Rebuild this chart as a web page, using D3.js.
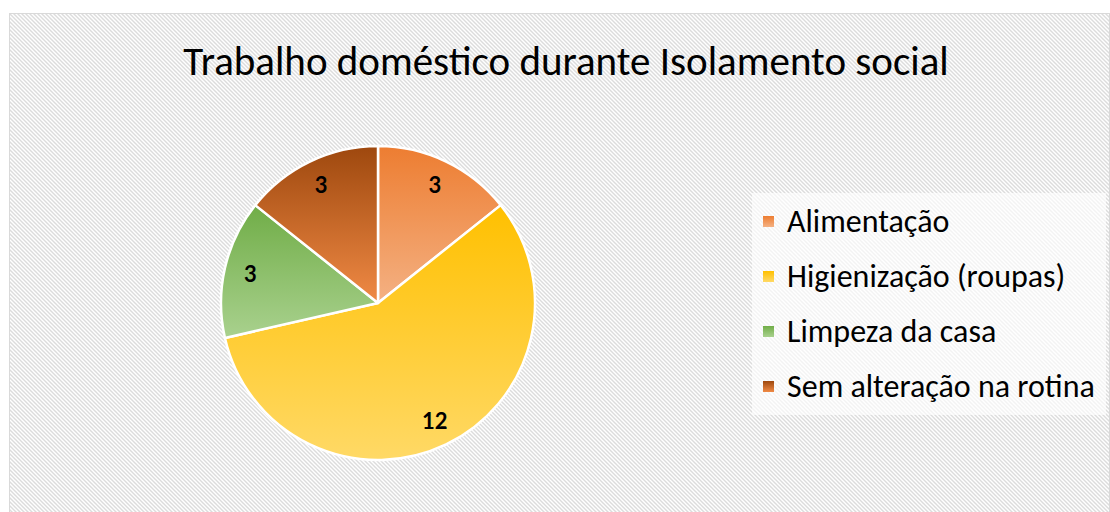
<!DOCTYPE html>
<html>
  <head>
    <meta charset="utf-8">
    <title>Trabalho doméstico</title>
    <script src="https://cdn.jsdelivr.net/npm/d3@7"></script>
    <style>
body {
  margin: 0;
  background: #fff;
  font-family: Carlito, Calibri, "Open Sans", "Noto Sans", sans-serif;
}
    </style>
  </head>
  <body>
    <script>

var categories = ["Alimentação", "Higienização (roupas)", "Limpeza da casa", "Sem alteração na rotina"];
var values = [3, 12, 3, 3];
var topColors = ["#ed7d31", "#ffc000", "#70ad47", "#9e480e"];
var bottomColors = ["#f4b183", "#ffd966", "#a9d18e", "#f08a45"];

var w = 1110,
    h = 512,
    cx = 378,
    cy = 303,
    r = 157;

var svg = d3.select("body")
  .append("svg")
    .attr("width", w)
    .attr("height", h);

var defs = svg.append("defs");

// downward diagonal hatch of the chart area
var hatch = defs.append("pattern")
    .attr("id", "hatch")
    .attr("patternUnits", "userSpaceOnUse")
    .attr("width", 4)
    .attr("height", 4);
hatch.append("rect")
    .attr("width", 4)
    .attr("height", 4)
    .attr("fill", "#fff");
hatch.append("path")
    .attr("d", "M-1,-1L5,5M-1,3L1,5M3,-1L5,1")
    .attr("stroke", "#dcdcdc")
    .attr("stroke-width", 1.4);

categories.forEach(function(c, i) {
  var g = defs.append("linearGradient")
      .attr("id", "grad" + i)
      .attr("x1", 0).attr("y1", 0)
      .attr("x2", 0).attr("y2", 1);
  g.append("stop").attr("offset", "0%").attr("stop-color", topColors[i]);
  g.append("stop").attr("offset", "100%").attr("stop-color", bottomColors[i]);
});

// chart area
svg.append("rect")
    .attr("x", 9.5)
    .attr("y", 13.5)
    .attr("width", w - 10)
    .attr("height", h - 13)
    .attr("fill", "url(#hatch)")
    .attr("stroke", "#d9d9d9");

svg.append("text")
    .attr("x", 566)
    .attr("y", 75)
    .attr("text-anchor", "middle")
    .style("font-size", "41px")
    .text("Trabalho doméstico durante Isolamento social");

var pie = d3.pie().sort(null);
var arcs = pie(values);

var arc = d3.arc().innerRadius(0).outerRadius(r);
var labelArc = d3.arc().innerRadius(131).outerRadius(131);

var vis = svg.append("g")
    .attr("transform", "translate(" + cx + "," + cy + ")");

vis.selectAll("path.slice")
    .data(arcs)
  .enter().append("path")
    .attr("class", "slice")
    .attr("d", arc)
    .attr("fill", function(d, i) { return "url(#grad" + i + ")"; })
    .attr("stroke", "#fff")
    .attr("stroke-width", 2.5)
    .attr("stroke-linejoin", "round");

vis.selectAll("text.val")
    .data(arcs)
  .enter().append("text")
    .attr("class", "val")
    .attr("x", function(d) { return labelArc.centroid(d)[0]; })
    .attr("y", function(d) { return labelArc.centroid(d)[1]; })
    .attr("text-anchor", "middle")
    .attr("dy", ".35em")
    .attr("font-family", "Lato, sans-serif")
    .attr("font-size", 22)
    .attr("font-weight", 700)
    .text(function(d) { return d.data; });

// legend
svg.append("rect")
    .attr("x", 752)
    .attr("y", 193)
    .attr("width", 354)
    .attr("height", 222)
    .attr("fill", "#fff")
    .attr("opacity", 0.65);

var legend = svg.selectAll("g.legend")
    .data(categories)
  .enter().append("g")
    .attr("class", "legend")
    .attr("transform", function(d, i) { return "translate(763," + (221 + i * 55) + ")"; });

legend.append("rect")
    .attr("x", 0)
    .attr("y", -5)
    .attr("width", 11)
    .attr("height", 11)
    .attr("fill", function(d, i) { return "url(#grad" + i + ")"; });

legend.append("text")
    .attr("x", 24)
    .attr("dy", ".35em")
    .style("font-size", "32px")
    .text(function(d) { return d; });

    </script>
  </body>
</html>
